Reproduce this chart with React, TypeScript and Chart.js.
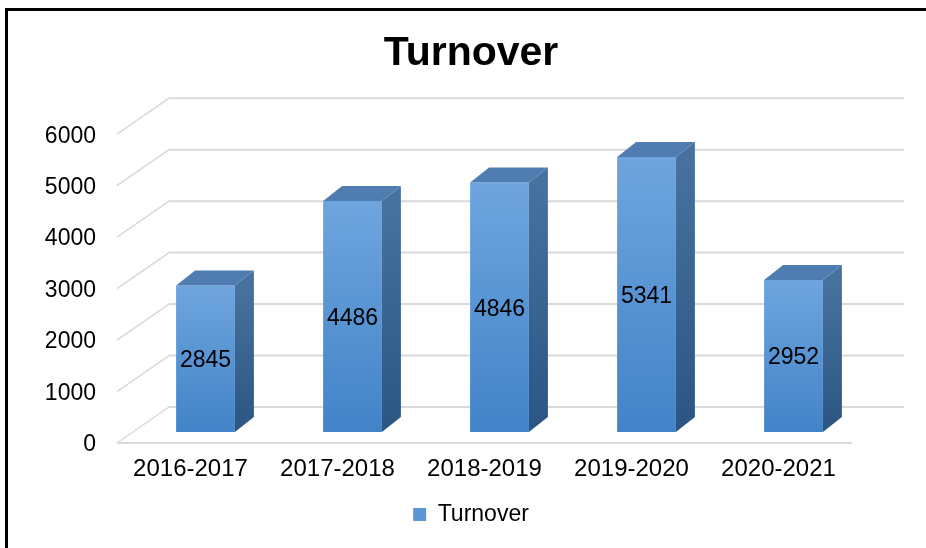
import React, { useEffect, useRef } from "react";
import { Chart, registerables } from "chart.js";

Chart.register(...registerables);

const categories = ["2016-2017", "2017-2018", "2018-2019", "2019-2020", "2020-2021"];
const turnover = [2845, 4486, 4846, 5341, 2952];
const yTickValues = [0, 1000, 2000, 3000, 4000, 5000, 6000];
const seriesLabel = "Turnover";
const titleText = "Turnover";

const FONT = "'Liberation Sans', Arial, Helvetica, sans-serif";

// 3D projection offsets relative to the bar (front-face) plane
const BACK = { dx: 37, dy: -25 };
const FRONT = { dx: -15, dy: 11 };
const DEPTH = { dx: 19, dy: -15 };

const wall3d = {
  id: "wall3d",
  beforeDraw(chart: any) {
    const ctx = chart.ctx;
    ctx.save();
    ctx.fillStyle = "#ffffff";
    ctx.fillRect(0, 0, chart.width, chart.height);
    ctx.fillStyle = "#000000";
    ctx.fillRect(5, 8, 3, chart.height);
    ctx.fillRect(5, 8, chart.width, 3);
    ctx.restore();
  },
  beforeDatasetsDraw(chart: any) {
    const { ctx, chartArea, scales } = chart;
    const y = scales.y;
    ctx.save();
    ctx.strokeStyle = "#d9d9d9";
    yTickValues.forEach((v) => {
      const py = y.getPixelForValue(v);
      ctx.lineWidth = 2;
      ctx.beginPath();
      ctx.moveTo(chartArea.left + BACK.dx, py + BACK.dy);
      ctx.lineTo(chartArea.right + BACK.dx, py + BACK.dy);
      ctx.stroke();
      ctx.lineWidth = 1.5;
      ctx.beginPath();
      ctx.moveTo(chartArea.left + FRONT.dx, py + FRONT.dy);
      ctx.lineTo(chartArea.left + BACK.dx, py + BACK.dy);
      ctx.stroke();
    });
    const base = y.getPixelForValue(0);
    ctx.lineWidth = 2;
    ctx.beginPath();
    ctx.moveTo(chartArea.left + FRONT.dx, base + FRONT.dy);
    ctx.lineTo(chartArea.right + FRONT.dx, base + FRONT.dy);
    ctx.stroke();
    ctx.restore();
  },
  afterDatasetsDraw(chart: any) {
    const ctx = chart.ctx;
    const meta = chart.getDatasetMeta(0);
    ctx.save();
    meta.data.forEach((bar: any, i: number) => {
      const { x, y: top, base, width } = bar.getProps(["x", "y", "base", "width"], true);
      const l = x - width / 2;
      const r = x + width / 2;
      // side face
      const gs = ctx.createLinearGradient(0, top, 0, base);
      gs.addColorStop(0, "#47719f");
      gs.addColorStop(1, "#2b5683");
      ctx.fillStyle = gs;
      ctx.beginPath();
      ctx.moveTo(r, top);
      ctx.lineTo(r + DEPTH.dx, top + DEPTH.dy);
      ctx.lineTo(r + DEPTH.dx, base + DEPTH.dy);
      ctx.lineTo(r, base);
      ctx.closePath();
      ctx.fill();
      // top face
      ctx.fillStyle = "#4f7db2";
      ctx.beginPath();
      ctx.moveTo(l, top);
      ctx.lineTo(l + DEPTH.dx, top + DEPTH.dy);
      ctx.lineTo(r + DEPTH.dx, top + DEPTH.dy);
      ctx.lineTo(r, top);
      ctx.closePath();
      ctx.fill();
      // value label
      ctx.fillStyle = "#000000";
      ctx.font = `23px ${FONT}`;
      ctx.textAlign = "center";
      ctx.textBaseline = "middle";
      ctx.fillText(String(turnover[i]), x, (top + base) / 2 + 2);
    });
    ctx.restore();
  },
};

export default function App() {
  const canvasRef = useRef<HTMLCanvasElement | null>(null);

  useEffect(() => {
    const canvas = canvasRef.current;
    if (!canvas) return;
    const chart = new Chart(canvas, {
      type: "bar",
      data: {
        labels: categories,
        datasets: [
          {
            label: seriesLabel,
            data: turnover,
            categoryPercentage: 1,
            barPercentage: 0.4,
            borderWidth: 0,
            backgroundColor: (c: any) => {
              const ch = c.chart;
              const ys = ch.scales && ch.scales.y;
              if (!ys || c.parsed == null || c.type !== "data") return "#5893d4";
              const top = ys.getPixelForValue(c.parsed.y);
              const base = ys.getPixelForValue(0);
              if (!isFinite(top) || !isFinite(base) || top === base) return "#5893d4";
              const g = ch.ctx.createLinearGradient(0, top, 0, base);
              g.addColorStop(0, "#6ea5de");
              g.addColorStop(1, "#4283c8");
              return g;
            },
          },
        ],
      },
      options: {
        responsive: false,
        animation: false,
        layout: { padding: { top: 0, bottom: 12, left: 0, right: 0 } },
        plugins: {
          title: {
            display: true,
            text: titleText,
            color: "#000000",
            font: { family: FONT, size: 41, weight: "bold" },
            padding: { top: 29, bottom: 45 },
          },
          legend: {
            display: true,
            position: "bottom",
            labels: {
              color: "#000000",
              font: { family: FONT, size: 23 },
              boxWidth: 13,
              boxHeight: 13,
              padding: 10,
              generateLabels: (ch: any) =>
                ch.data.datasets.map((ds: any, i: number) => ({
                  text: ds.label,
                  fillStyle: "#5b97d6",
                  strokeStyle: "#5b97d6",
                  lineWidth: 0,
                  hidden: false,
                  datasetIndex: i,
                  fontColor: "#000000",
                })),
            },
          },
          tooltip: { enabled: false },
        },
        scales: {
          x: {
            grid: { display: false, drawTicks: false },
            border: { display: false },
            ticks: {
              color: "#000000",
              font: { family: FONT, size: 24 },
              padding: 23,
              labelOffset: -15,
              maxRotation: 0,
              autoSkip: false,
            },
            afterFit: (s: any) => {
              s.height = 61;
            },
          },
          y: {
            min: 0,
            max: 6000,
            grid: { display: false, drawTicks: false },
            border: { display: false },
            ticks: {
              stepSize: 1000,
              color: "#000000",
              font: { family: FONT, size: 23 },
              padding: 36,
              labelOffset: 13,
              callback: (v: any) => String(v),
            },
            afterFit: (s: any) => {
              s.width = 132;
            },
          },
          y2: {
            type: "linear",
            position: "right",
            display: true,
            grid: { display: false, drawTicks: false },
            border: { display: false },
            ticks: { display: false },
            afterFit: (s: any) => {
              s.width = 75;
            },
          },
        },
      },
      plugins: [wall3d],
    } as any);
    return () => chart.destroy();
  }, []);

  return (
    <div
      style={{
        position: "fixed",
        left: 0,
        top: 0,
        width: 926,
        height: 548,
        overflow: "hidden",
        background: "#ffffff",
      }}
    >
      <canvas ref={canvasRef} width={942} height={548} style={{ display: "block" }} />
    </div>
  );
}
